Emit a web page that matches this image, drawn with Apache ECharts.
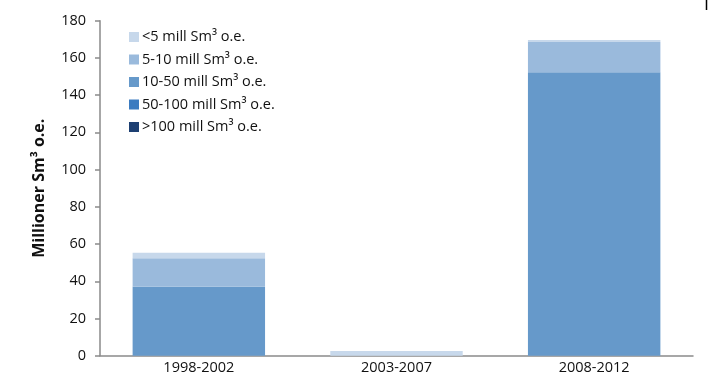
<!DOCTYPE html>
<html>
<head>
<meta charset="utf-8">
<script src="https://cdn.jsdelivr.net/npm/echarts@6/dist/echarts.min.js"></script>
<style>
  html, body { margin: 0; padding: 0; background: #fff; }
  #chart { width: 710px; height: 379px; }
</style>
</head>
<body>
<div id="chart"></div>
<script>
// Periods on the x axis
const periods = ['1998-2002', '2003-2007', '2008-2012'];

// Volumes per discovery size class (million Sm³ o.e.), one value per period
const over100 = [0, 0, 0];
const from50to100 = [0, 0, 0];
const from10to50 = [37.1, 0, 152.3];
const from5to10 = [15.2, 0, 16.3];
const under5 = [3.0, 2.5, 1.0];

const classNames = [
  '<5 mill Sm³ o.e.',
  '5-10 mill Sm³ o.e.',
  '10-50 mill Sm³ o.e.',
  '50-100 mill Sm³ o.e.',
  '>100 mill Sm³ o.e.'
];

const yTicks = { min: 0, max: 180, interval: 20 };

const font = '"Open Sans", "Noto Sans", sans-serif';

// Stack order from the bottom up: largest class first
const stackSeries = [
  { name: classNames[4], data: over100, color: '#1d3f72' },
  { name: classNames[3], data: from50to100, color: '#3b7bc0' },
  { name: classNames[2], data: from10to50, color: '#6699ca' },
  { name: classNames[1], data: from5to10, color: '#9abadc' },
  { name: classNames[0], data: under5, color: '#c7d8eb' }
];

const chart = echarts.init(document.getElementById('chart'), null, { renderer: 'canvas' });

chart.setOption({
  animation: false,
  backgroundColor: '#fff',
  grid: { left: 100, right: 17, top: 20.7, bottom: 23.3, containLabel: false },
  legend: {
    orient: 'vertical',
    left: 124,
    top: 24.5,
    icon: 'rect',
    itemWidth: 10,
    itemHeight: 10,
    itemGap: 7.5,
    data: classNames,
    textStyle: { fontFamily: font, fontSize: 14.5, color: '#111', lineHeight: 15, padding: [0, 0, 0, -2] },
    selectedMode: false
  },
  xAxis: {
    type: 'category',
    data: periods,
    axisLine: { lineStyle: { color: '#8a8a8a', width: 1.5 } },
    axisTick: { show: false },
    axisLabel: { fontFamily: font, fontSize: 14.5, color: '#111', margin: 5 }
  },
  yAxis: {
    type: 'value',
    min: yTicks.min,
    max: yTicks.max,
    interval: yTicks.interval,
    name: 'Millioner Sm³ o.e.',
    nameLocation: 'middle',
    nameGap: 53,
    nameTextStyle: { fontFamily: font, fontSize: 16, fontWeight: 'bold', color: '#111' },
    axisLine: { show: true, lineStyle: { color: '#8a8a8a', width: 1.5 } },
    axisTick: { show: true, inside: false, length: 5, lineStyle: { color: '#8a8a8a', width: 1.5 } },
    axisLabel: { fontFamily: font, fontSize: 14.5, color: '#111', margin: 14 },
    splitLine: { show: false }
  },
  series: stackSeries.map(s => ({
    name: s.name,
    type: 'bar',
    stack: 'total',
    barWidth: '67%',
    data: s.data,
    itemStyle: { color: s.color }
  })),
  graphic: [
    {
      type: 'line',
      shape: { x1: 706.5, y1: 0, x2: 706.5, y2: 10 },
      style: { stroke: '#000', lineWidth: 1.5 }
    }
  ]
});
</script>
</body>
</html>
